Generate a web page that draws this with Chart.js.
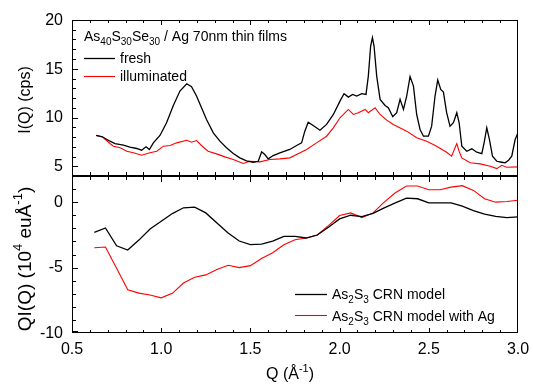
<!DOCTYPE html>
<html><head><meta charset="utf-8">
<script src="https://cdn.jsdelivr.net/npm/chart.js@4/dist/chart.umd.min.js"></script>
<style>
html,body{margin:0;padding:0;background:#fff;width:533px;height:385px;overflow:hidden}
#wrap{position:absolute;left:0;top:0;width:533px;height:385px}
#ov{position:absolute;left:0;top:0;width:533px;height:385px;pointer-events:none}
.fr{position:absolute;border:1px solid #000;box-sizing:border-box;pointer-events:none}
</style></head><body>
<div id="wrap"><canvas id="c" width="533" height="385"></canvas></div>
<canvas id="ov" width="533" height="385"></canvas>
<div id="frTop" class="fr"></div>
<div id="frBot" class="fr"></div>
<script>
// ---------- data ----------
const FRESH_Q = [0.635,0.67,0.713,0.741,0.788,0.825,0.862,0.89,0.915,0.934,0.956,0.993,1.03,1.068,1.105,1.143,1.17,1.198,1.226,1.254,1.292,1.329,1.366,1.404,1.441,1.478,1.516,1.544,1.563,1.581,1.6,1.628,1.665,1.721,1.759,1.787,1.805,1.824,1.852,1.89,1.927,1.965,2.002,2.025,2.049,2.073,2.096,2.124,2.148,2.161,2.174,2.184,2.193,2.208,2.227,2.255,2.273,2.298,2.32,2.339,2.358,2.376,2.395,2.414,2.432,2.451,2.47,2.498,2.516,2.535,2.55,2.567,2.582,2.6,2.619,2.638,2.657,2.67,2.685,2.713,2.741,2.769,2.797,2.81,2.825,2.84,2.857,2.881,2.909,2.928,2.947,2.965,2.984,3.0];
const FRESH_I = [8.16,8.02,7.57,7.33,7.16,6.95,6.82,6.65,6.99,6.72,7.4,8.16,9.46,11.24,12.71,13.46,13.16,12.2,11.0,9.8,8.43,7.57,6.89,6.3,5.86,5.55,5.41,5.51,6.48,6.2,5.76,6.1,6.38,6.72,7.13,7.4,8.6,9.52,9.18,8.7,9.29,10.31,11.68,12.44,12.09,12.37,12.2,12.44,12.37,14.25,17.33,18.2,17.33,14.25,11.86,11.24,11.0,10.08,10.49,11.86,10.83,12.2,14.19,13.22,10.31,8.77,8.08,8.08,9.11,12.2,13.84,12.88,12.6,10.49,9.11,9.46,10.49,9.46,7.06,6.54,6.79,6.44,6.3,7.4,8.94,7.74,6.03,5.51,5.41,5.35,5.62,6.03,7.74,8.43];
const ILLUM_Q = [0.635,0.67,0.713,0.732,0.77,0.807,0.844,0.89,0.937,0.975,1.012,1.05,1.087,1.143,1.17,1.198,1.226,1.263,1.31,1.357,1.404,1.46,1.497,1.553,1.609,1.665,1.721,1.759,1.815,1.871,1.927,1.965,2.002,2.049,2.077,2.105,2.143,2.161,2.199,2.227,2.264,2.301,2.376,2.432,2.488,2.544,2.6,2.628,2.647,2.657,2.67,2.685,2.732,2.788,2.844,2.881,2.909,2.937,3.0];
const ILLUM_I = [8.16,8.02,7.33,7.06,6.89,6.54,6.38,6.13,6.38,6.54,7.06,7.13,7.4,7.67,7.47,7.64,7.13,6.54,6.27,5.96,5.69,5.28,5.51,5.45,5.69,5.76,5.86,6.2,6.72,7.4,8.08,8.94,9.97,10.83,10.31,10.49,10.83,10.49,11.0,10.31,9.73,9.29,8.6,7.92,7.57,7.06,6.44,6.03,6.89,7.33,6.54,5.86,5.35,5.24,5.0,4.76,5.1,4.9,4.94];
const MODEL_Q = [0.625,0.6875,0.75,0.8125,0.875,0.9375,1.0,1.0625,1.125,1.1875,1.25,1.3125,1.375,1.4375,1.5,1.5625,1.625,1.6875,1.75,1.8125,1.875,1.9375,2.0,2.0625,2.125,2.1875,2.25,2.3125,2.375,2.4375,2.5,2.5625,2.625,2.6875,2.75,2.8125,2.875,2.9375,3.0];
const CRN = [-2.31,-1.97,-3.33,-3.66,-2.9,-2.05,-1.46,-0.87,-0.43,-0.38,-0.82,-1.59,-2.36,-2.97,-3.25,-3.2,-2.97,-2.61,-2.61,-2.74,-2.51,-1.92,-1.28,-1.0,-1.1,-0.85,-0.43,-0.05,0.31,0.26,-0.05,-0.05,-0.05,-0.31,-0.64,-0.92,-1.08,-1.18,-1.12];
const CRN_AG = [-3.48,-3.43,-5.05,-6.69,-6.95,-7.1,-7.31,-6.97,-6.18,-5.74,-5.56,-5.15,-4.82,-5.0,-4.85,-4.31,-3.87,-3.25,-2.87,-2.74,-2.51,-1.79,-1.02,-0.82,-1.18,-0.82,0.0,0.72,1.23,1.23,0.95,0.95,1.15,1.26,0.9,0.26,0.0,0.05,0.15];
const X_TICKS = [0.5,1.0,1.5,2.0,2.5,3.0];
const X_TICK_LABELS = ['0.5','1.0','1.5','2.0','2.5','3.0'];
const TOP_RANGE = [4, 20];
const BOT_RANGE = [-10, 2];
const TOP_Y_TICKS = [5,10,15,20];
const TOP_Y_LABELS = ['5','10','15','20'];
const BOT_Y_TICKS = [-10,-5,0];
const BOT_Y_LABELS = ['-10','-5','0'];

// ---------- layout (pixels) ----------
const PAD = {left:72, right:15, top:20, bottom:52};
const H = 385;
const AREA_H = H - PAD.top - PAD.bottom;
const TOP_H = 156, BOT_H = AREA_H - TOP_H;
const topSpan = TOP_RANGE[1] - TOP_RANGE[0];
const botSpan = BOT_RANGE[1] - BOT_RANGE[0];
const yTopMin = TOP_RANGE[0] - topSpan * BOT_H / TOP_H;
const yBotMax = BOT_RANGE[1] + botSpan * TOP_H / BOT_H;

const FONT = '"Liberation Sans", Arial, sans-serif';
function pts(xs, ys){ return xs.map((x,i)=>({x:x, y:ys[i]})); }
function rich(ctx, parts, x, y, size, align){
  let w = 0;
  const items = parts.map(p=>{
    const fs = p[1] ? Math.round(size*0.68) : size;
    ctx.font = fs + 'px ' + FONT;
    const m = ctx.measureText(p[0]).width;
    w += m; return {t:p[0], fs:fs, m:m, mode:p[1]};
  });
  let cx = align === 'center' ? x - w/2 : x;
  ctx.textAlign = 'left';
  items.forEach(it=>{
    ctx.font = it.fs + 'px ' + FONT;
    const dy = it.mode === 1 ? size*0.3 : (it.mode === 2 ? -size*0.42 : 0);
    ctx.fillText(it.t, cx, y + dy);
    cx += it.m;
  });
}

// frame + inward ticks, drawn from the chart's scales onto a given context
function drawFrame(ctx, chart){
  const a = chart.chartArea, xs = chart.scales.x, yt = chart.scales.yTop, yb = chart.scales.yBot;
  const L = Math.round(a.left), R = Math.round(a.right), T = Math.round(a.top), B = Math.round(a.bottom);
  const M = Math.round(yt.getPixelForValue(TOP_RANGE[0]));
  ctx.save();
  ctx.strokeStyle = '#000'; ctx.lineWidth = 1;
  ctx.beginPath();
  ctx.moveTo(L+0.5, T+0.5); ctx.lineTo(R-0.5, T+0.5); ctx.lineTo(R-0.5, B-0.5); ctx.lineTo(L+0.5, B-0.5); ctx.closePath();
  ctx.moveTo(L, M-0.5); ctx.lineTo(R, M-0.5);
  ctx.moveTo(L, M+0.5); ctx.lineTo(R, M+0.5);
  const nx = Math.round((xs.max - xs.min)/0.1);
  for (let i=0;i<=nx;i++){
    const v = xs.min + i*0.1;
    const len = X_TICKS.some(t=>Math.abs(t-v)<1e-6) ? 5 : 3;
    let px = Math.round(xs.getPixelForValue(v)) + 0.5;
    if (i===nx) px -= 1;
    ctx.moveTo(px, T); ctx.lineTo(px, T+len);
    ctx.moveTo(px, M-1); ctx.lineTo(px, M-1-len);
    ctx.moveTo(px, M+1); ctx.lineTo(px, M+1+len);
    ctx.moveTo(px, B); ctx.lineTo(px, B-len);
  }
  for (let v=TOP_RANGE[0]+1; v<=TOP_RANGE[1]; v++){
    const len = TOP_Y_TICKS.indexOf(v) >= 0 ? 5 : 3;
    const py = Math.min(Math.round(yt.getPixelForValue(v)), M-2) + 0.5;
    ctx.moveTo(L, py); ctx.lineTo(L+1+len, py);
  }
  for (let v=BOT_RANGE[0]; v<BOT_RANGE[1]; v++){
    const len = BOT_Y_TICKS.indexOf(v) >= 0 ? 5 : 3;
    const py = Math.min(Math.round(yb.getPixelForValue(v)), B-2) + 0.5;
    ctx.moveTo(L, py); ctx.lineTo(L+1+len, py);
  }
  ctx.stroke();
  ctx.restore();
  return {L:L, R:R, T:T, B:B, M:M};
}

const decor = {
  id:'decor',
  afterDatasetsDraw(chart){
    const ctx = chart.ctx, a = chart.chartArea, xs = chart.scales.x;
    const yt = chart.scales.yTop, yb = chart.scales.yBot;
    drawFrame(ctx, chart);
    ctx.save();
    ctx.fillStyle = '#000';
    ctx.font = '16px ' + FONT;
    ctx.textBaseline = 'middle'; ctx.textAlign = 'right';
    TOP_Y_TICKS.forEach((v,i)=>{ ctx.fillText(TOP_Y_LABELS[i], a.left - 9, yt.getPixelForValue(v) + 0.5); });
    BOT_Y_TICKS.forEach((v,i)=>{ ctx.fillText(BOT_Y_LABELS[i], a.left - 9, yb.getPixelForValue(v) + 0.5); });
    ctx.textAlign = 'center';
    X_TICKS.forEach((v,i)=>{ ctx.fillText(X_TICK_LABELS[i], xs.getPixelForValue(v), a.bottom + 16.5); });
    ctx.textBaseline = 'alphabetic';

    const ds = chart.data.datasets;
    rich(ctx, [['As',0],['40',1],['S',0],['30',1],['Se',0],['30',1],[' / Ag 70nm thin films',0]], 84, 40.5, 14, 'left');
    ctx.lineWidth = ds[0].borderWidth; ctx.strokeStyle = ds[0].borderColor;
    ctx.beginPath(); ctx.moveTo(84, 58.5); ctx.lineTo(115, 58.5); ctx.stroke();
    ctx.lineWidth = ds[1].borderWidth; ctx.strokeStyle = ds[1].borderColor;
    ctx.beginPath(); ctx.moveTo(84, 76.5); ctx.lineTo(115, 76.5); ctx.stroke();
    ctx.font = '14px ' + FONT; ctx.textAlign = 'left';
    ctx.fillText(ds[0].label, 120, 63);
    ctx.fillText(ds[1].label, 120, 81);
    ctx.lineWidth = ds[2].borderWidth; ctx.strokeStyle = ds[2].borderColor;
    ctx.beginPath(); ctx.moveTo(295, 294.5); ctx.lineTo(327, 294.5); ctx.stroke();
    ctx.lineWidth = ds[3].borderWidth; ctx.strokeStyle = ds[3].borderColor;
    ctx.beginPath(); ctx.moveTo(295, 315.5); ctx.lineTo(327, 315.5); ctx.stroke();
    rich(ctx, [['As',0],['2',1],['S',0],['3',1],[' CRN model',0]], 332, 299, 14, 'left');
    rich(ctx, [['As',0],['2',1],['S',0],['3',1],[' CRN model with Ag',0]], 332, 320.5, 14, 'left');
    rich(ctx, [['Q (Å',0],['-1',2],[')',0]], 290, 379, 16, 'center');
    ctx.save(); ctx.translate(26, 100); ctx.rotate(-Math.PI/2);
    ctx.textBaseline = 'middle';
    rich(ctx, [['I(Q) (cps)',0]], 0, 0, 16, 'center');
    ctx.restore();
    ctx.save(); ctx.translate(26, 259); ctx.rotate(-Math.PI/2);
    ctx.textBaseline = 'middle';
    rich(ctx, [['QI(Q) (10',0],['4',2],[' euÅ',0],['-1',2],[')',0]], 0, 0, 19, 'center');
    ctx.restore();
    ctx.restore();
  }
};

const chart = new Chart(document.getElementById('c'), {
  type:'line',
  data:{datasets:[
    {label:'fresh', data:pts(FRESH_Q, FRESH_I), yAxisID:'yTop', borderColor:'#000', borderWidth:1.3},
    {label:'illuminated', data:pts(ILLUM_Q, ILLUM_I), yAxisID:'yTop', borderColor:'#ff0000', borderWidth:1.1},
    {label:'As2S3 CRN model', data:pts(MODEL_Q, CRN), yAxisID:'yBot', borderColor:'#000', borderWidth:1.3},
    {label:'As2S3 CRN model with Ag', data:pts(MODEL_Q, CRN_AG), yAxisID:'yBot', borderColor:'#ff0000', borderWidth:1.1}
  ]},
  options:{
    responsive:false, animation:false, devicePixelRatio:1,
    layout:{padding:PAD},
    plugins:{legend:{display:false}, tooltip:{enabled:false}},
    elements:{point:{radius:0}, line:{tension:0}},
    scales:{
      x:{type:'linear', min:0.5, max:3.0, display:false},
      yTop:{type:'linear', position:'left', min:yTopMin, max:TOP_RANGE[1], display:false},
      yBot:{type:'linear', position:'left', min:BOT_RANGE[0], max:yBotMax, display:false}
    }
  },
  plugins:[decor]
});

// overlay copy of the frame and ticks, plus CSS frame boxes, placed from the chart's scales
const box = drawFrame(document.getElementById('ov').getContext('2d'), chart);
function place(id, top, bottom){
  const el = document.getElementById(id);
  el.style.left = box.L + 'px'; el.style.width = (box.R - box.L) + 'px';
  el.style.top = top + 'px'; el.style.height = (bottom - top) + 'px';
}
place('frTop', box.T, box.M);
place('frBot', box.M, box.B);
</script>
</body></html>
